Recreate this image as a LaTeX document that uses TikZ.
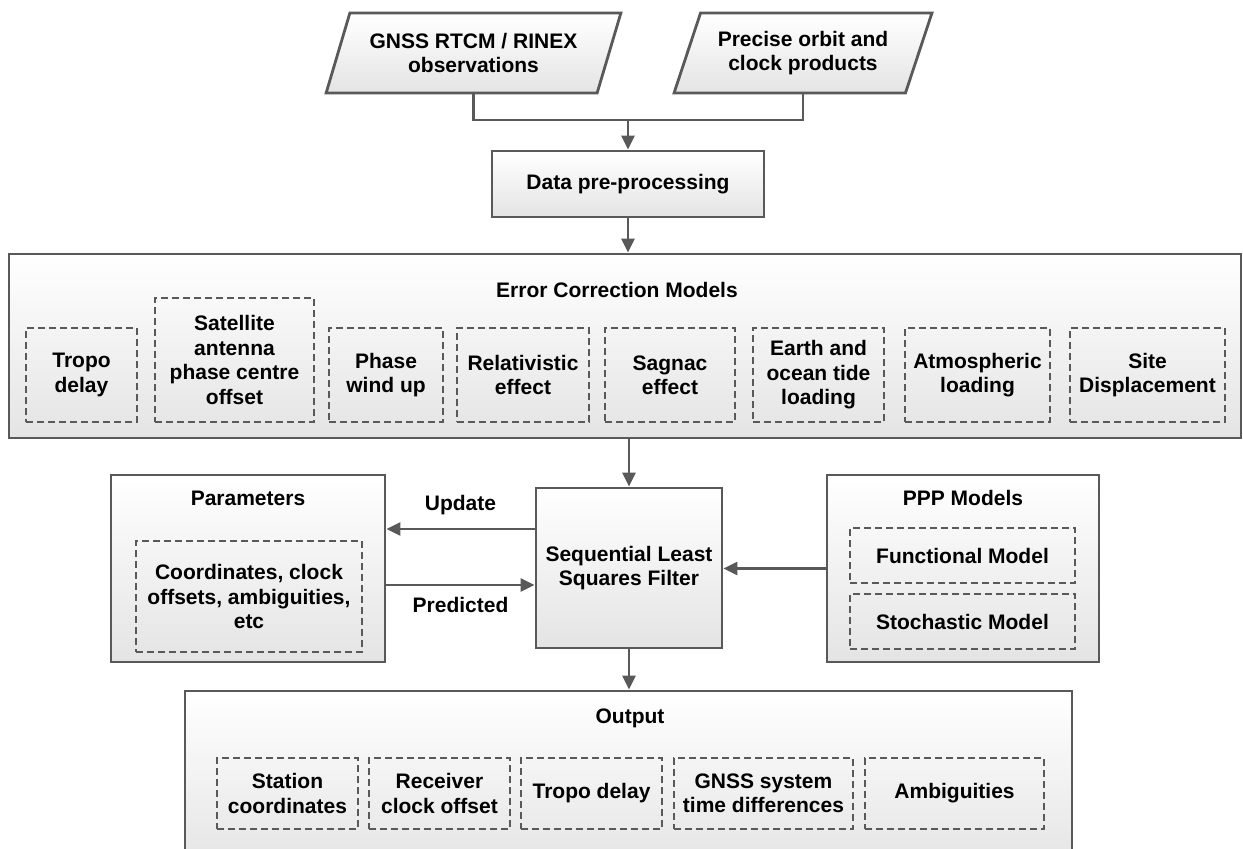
\documentclass[tikz,border=0pt]{standalone}
\usepackage{fontspec}
\setmainfont{Liberation Sans}
\usetikzlibrary{arrows.meta,positioning,shapes.geometric}
\definecolor{flowgray}{RGB}{89,89,89}
\definecolor{flowfill}{RGB}{228,228,228}
\tikzset{
  solidbox/.style={draw=flowgray, line width=1.4pt, top color=white, bottom color=flowfill, inner sep=0pt, align=center},
  dashbox/.style={draw=flowgray, line width=1pt, dash pattern=on 3.5pt off 2pt, inner sep=0pt, align=center},
  iobox/.style={solidbox, trapezium, trapezium left angle=63.4, trapezium right angle=116.6, trapezium stretches=true},
  flowline/.style={draw=flowgray, line width=1.4pt},
  flowarrow/.style={flowline, -{Triangle[length=7pt,width=6.5pt]}},
  boxtitle/.style={inner sep=0pt}
}

\begin{document}
\begin{tikzpicture}[x=0.5pt, y=-0.5pt, font=\fontsize{10.5}{12.2}\selectfont\bfseries]
  \useasboundingbox (0,0) rectangle (1243,848);

  % Inputs
  \node[iobox, minimum width=147.5pt, minimum height=40pt] (in_obs) at (473.5,53) {GNSS RTCM / RINEX\\observations};
  \node[iobox, minimum width=129pt, minimum height=40pt] (in_prod) at (803,53) {Precise orbit and\\clock products};
  \coordinate (merge) at (628,120);

  % Pre-processing
  \node[solidbox, minimum width=136pt, minimum height=33pt] (prep) at (628,184) {Data pre-processing};

  % Error correction models
  \node[solidbox, minimum width=616pt, minimum height=92pt] (ecm) at (625,346) {};
  \node[boxtitle] (ecmtitle) at (617,290) {Error Correction Models};
  \node[dashbox, minimum width=55.5pt, minimum height=47pt] (tropo) at (81.5,375) {Tropo\\delay};
  \node[dashbox, minimum width=79.5pt, minimum height=62pt] (satpco) at (234.5,360) {Satellite\\antenna\\phase centre\\offset};
  \node[dashbox, minimum width=57pt, minimum height=47pt] (windup) at (386,375) {Phase\\wind up};
  \node[dashbox, minimum width=66pt, minimum height=47pt] (relat) at (523,375) {Relativistic\\effect};
  \node[dashbox, minimum width=65pt, minimum height=47pt] (sagnac) at (670,375) {Sagnac\\effect};
  \node[dashbox, minimum width=65.5pt, minimum height=47pt] (tide) at (818.5,375) {Earth and\\ocean tide\\loading};
  \node[dashbox, minimum width=72.5pt, minimum height=47pt] (atmload) at (977.5,375) {Atmospheric\\loading};
  \node[dashbox, minimum width=77.5pt, minimum height=47pt] (sitedisp) at (1147.5,375) {Site\\Displacement};

  % Parameters
  \node[solidbox, minimum width=137pt, minimum height=93.5pt] (params) at (248,568.5) {};
  \node[boxtitle] (paramstitle) at (248,498) {Parameters};
  \node[dashbox, minimum width=113pt, minimum height=55.5pt] (paramlist) at (249,596.5) {Coordinates, clock\\offsets, ambiguities,\\etc};

  % Filter
  \node[solidbox, minimum width=93pt, minimum height=80pt] (slsf) at (629,568) {Sequential Least\\Squares Filter};

  % PPP models
  \node[solidbox, minimum width=136pt, minimum height=93.5pt] (ppp) at (963,568.5) {};
  \node[boxtitle] (ppptitle) at (963,498) {PPP Models};
  \node[dashbox, minimum width=112.5pt, minimum height=27.5pt] (funcmod) at (962.5,555.5) {Functional Model};
  \node[dashbox, minimum width=112.5pt, minimum height=27.5pt] (stochmod) at (962.5,621.5) {Stochastic Model};

  % Output
  \node[solidbox, minimum width=443.5pt, minimum height=89.5pt] (output) at (628.5,780.5) {};
  \node[boxtitle] (outtitle) at (630,718) {Output};
  \node[dashbox, minimum width=70.5pt, minimum height=35.5pt] (outcoord) at (287.5,793.5) {Station\\coordinates};
  \node[dashbox, minimum width=70.5pt, minimum height=35.5pt] (outclock) at (439.5,793.5) {Receiver\\clock offset};
  \node[dashbox, minimum width=70.5pt, minimum height=35.5pt] (outtropo) at (591.5,793.5) {Tropo delay};
  \node[dashbox, minimum width=89.5pt, minimum height=35.5pt] (outtime) at (763.5,793.5) {GNSS system\\time differences};
  \node[dashbox, minimum width=89.5pt, minimum height=35.5pt] (outamb) at (954.5,793.5) {Ambiguities};

  % Connectors
  \draw[flowline] (in_obs.center |- in_obs.south) -- (in_obs.center |- merge) -- (in_prod.center |- merge) -- (in_prod.center |- in_prod.south);
  \draw[flowarrow] (merge) -- (prep);
  \draw[flowarrow] (prep.south) -- (prep.south |- ecm.north);
  \draw[flowarrow] (ecm.south -| slsf.north) -- (slsf.north);
  \draw[flowarrow] ([yshift=19.5pt]slsf.west) -- ([yshift=19.5pt]slsf.west -| params.east) node[midway, above=3pt] {Update};
  \draw[flowarrow] ([yshift=-8.5pt]slsf.west -| params.east) -- ([yshift=-8.5pt]slsf.west) node[midway, below=2pt] {Predicted};
  \draw[flowarrow] (ppp.west) -- (ppp.west -| slsf.east);
  \draw[flowarrow] (slsf.south) -- (slsf.south |- output.north);
\end{tikzpicture}
\end{document}
